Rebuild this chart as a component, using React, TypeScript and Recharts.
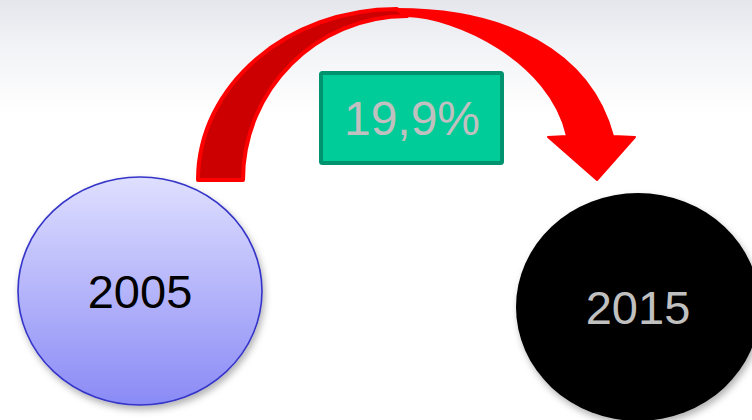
import React from 'react';
import { ScatterChart, Scatter, XAxis, YAxis } from 'recharts';

// values
const years = [2005, 2015];
const yearLabels = ['2005', '2015'];
const levels = [3.07, 2.69];
const growthLabel = '19,9%';

const data = years.map((year, i) => ({ year, level: levels[i], label: yearLabels[i] }));

const FONT = '"Liberation Sans", Arial, Helvetica, sans-serif';

const Bubble = (props: any) => {
  const { cx, cy, payload } = props;
  if (cx == null || cy == null) return null;
  const i = years.indexOf(payload.year);
  const first = i === 0;
  return (
    <g>
      <defs>
        <linearGradient id="bubbleFill" x1="0" y1="0" x2="0" y2="1">
          <stop offset="0%" stopColor="#dfdfff" />
          <stop offset="100%" stopColor="#8a8af6" />
        </linearGradient>
        <filter id={`shadow-${i}`} x="-20%" y="-20%" width="140%" height="150%">
          <feDropShadow dx="2" dy="4" stdDeviation="3.5" floodColor="#000" floodOpacity="0.3" />
        </filter>
      </defs>
      <ellipse
        cx={cx}
        cy={cy}
        rx={122}
        ry={114}
        fill={first ? 'url(#bubbleFill)' : '#000'}
        stroke={first ? '#3434c8' : 'none'}
        strokeWidth={1.6}
        filter={`url(#shadow-${i})`}
      />
      <text
        x={cx}
        y={cy + 17}
        textAnchor="middle"
        fontFamily={FONT}
        fontSize={47}
        fill={first ? '#000' : '#c0c0c0'}
      >
        {payload.label}
      </text>
    </g>
  );
};

const K = 0.5523;

// curved arrow from the first bubble to the second one
const GrowthArrow = ({ points }: any) => {
  if (!points || points.length < 2) return null;
  const a = points[0];
  const b = points[1];
  const footY = a.y - 111;
  const oL = a.x + 58;
  const iL = a.x + 103;
  const peakX = a.x + 257;
  const peakY = a.y - 282;
  const iPeakX = a.x + 267;
  const iPeakY = a.y - 275;
  const headY = b.y - 170;
  const shaftY = b.y - 171;
  const oR = b.x - 25;
  const iR = b.x - 71;

  const outerLeft = `C ${oL},${footY - K * (footY - peakY)} ${peakX - K * (peakX - oL)},${peakY} ${peakX},${peakY}`;
  const outerRight = `C ${a.x + 365},${peakY} ${b.x - 48},${b.y - 257} ${oR},${shaftY}`;
  const innerRight = `C ${b.x - 88},${b.y - 247} ${a.x + 315},${iPeakY + 1} ${iPeakX},${iPeakY}`;
  const innerLeft = `C ${iPeakX - K * (iPeakX - iL)},${iPeakY} ${iL},${footY - K * (footY - iPeakY)} ${iL},${footY}`;

  const full =
    `M ${oL},${footY} ${outerLeft} ${outerRight} L ${b.x - 3},${headY} ` +
    `L ${b.x - 41},${b.y - 127} L ${b.x - 90},${headY} L ${iR},${shaftY} ${innerRight} ${innerLeft} Z`;
  const back = `M ${oL},${footY} ${outerLeft} L ${iPeakX},${iPeakY} ${innerLeft} Z`;

  const boxX = a.x + 181;
  const boxY = peakY + 64;
  return (
    <g>
      <path d={full} fill="#ff0000" stroke="#ff0000" strokeWidth={2} strokeLinejoin="round" />
      <path d={back} fill="#cc0000" stroke="#ff0000" strokeWidth={4} strokeLinejoin="round" />
      <rect x={boxX} y={boxY} width={181} height={90} rx={1.5} fill="#00cc99" stroke="#009370" strokeWidth={4} />
      <text
        x={boxX + 91}
        y={boxY + 62}
        textAnchor="middle"
        fontFamily={FONT}
        fontSize={48}
        fill="#c0c0c0"
      >
        {growthLabel}
      </text>
    </g>
  );
};

export default function App() {
  return (
    <div
      style={{
        position: 'fixed',
        left: 0,
        top: 0,
        width: 752,
        height: 420,
        overflow: 'hidden',
        background: 'linear-gradient(to bottom, #e4e6ec 0px, #f2f3f6 45px, #ffffff 115px)',
      }}
    >
      <ScatterChart width={752} height={420} margin={{ top: 0, right: 114, bottom: 0, left: 140 }}>
        <XAxis type="number" dataKey="year" domain={[2005, 2015]} hide />
        <YAxis type="number" dataKey="level" domain={[0, 10]} hide />
        <Scatter
          data={data}
          shape={Bubble}
          line={(p: any) => <GrowthArrow points={p.points} />}
          isAnimationActive={false}
        />
      </ScatterChart>
    </div>
  );
}
